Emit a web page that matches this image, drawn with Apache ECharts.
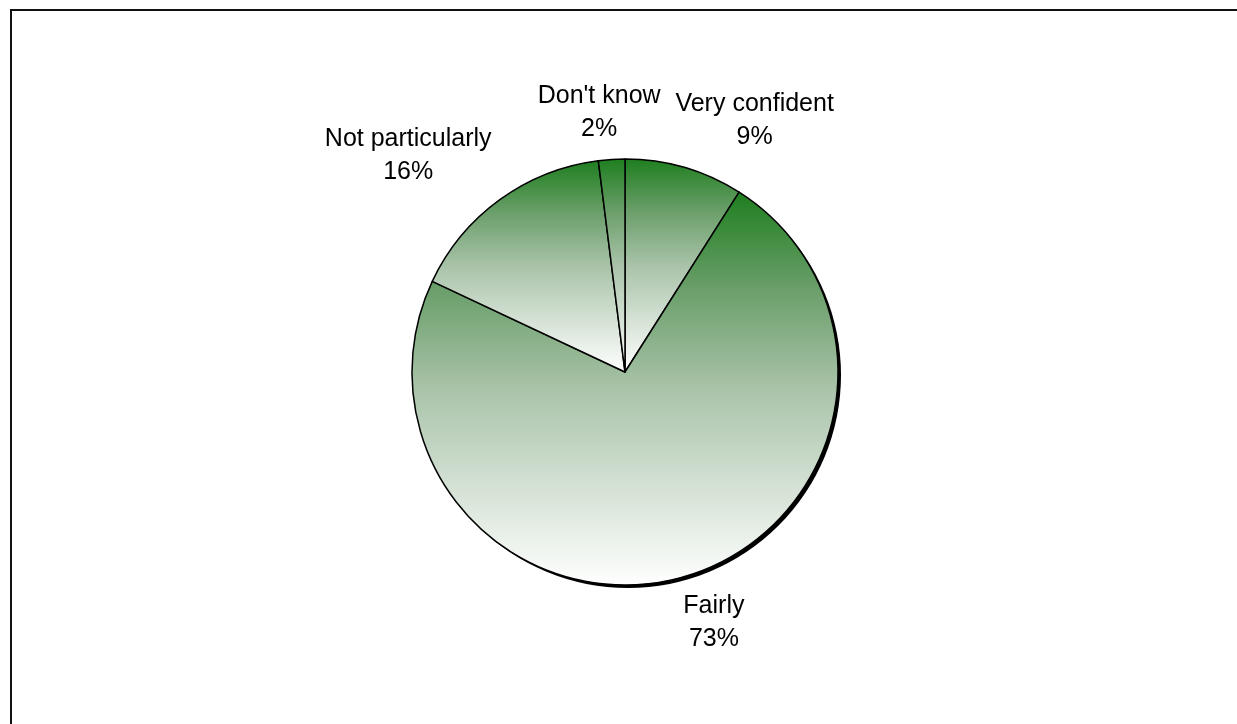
<!DOCTYPE html>
<html>
<head>
<meta charset="utf-8">
<script src="https://cdn.jsdelivr.net/npm/echarts@6/dist/echarts.min.js"></script>
<style>
  html, body { margin: 0; padding: 0; background: #fff; }
  #main { position: absolute; left: 0; top: 0; width: 1237px; height: 724px; }
  #frame { position: absolute; left: 10px; top: 9px; width: 1300px; height: 800px;
           border-left: 2px solid #111; border-top: 2px solid #111; pointer-events: none; }
</style>
</head>
<body>
<div id="main"></div>
<div id="frame"></div>
<script>
  // answers, clockwise from 12 o'clock
  const categories = ['Very confident', 'Fairly', 'Not particularly', "Don't know"]
  const shares = [9, 73, 16, 2]

  const pieCenter = [625, 372]
  const labelGap = 14

  const sliceFill = new echarts.graphic.LinearGradient(0, 0, 0, 1, [
    { offset: 0, color: '#1e7e1e' },
    { offset: 0.25, color: '#6b9f6b' },
    { offset: 0.5, color: '#a9c3a9' },
    { offset: 1, color: '#ffffff' }
  ])

  const clamp01 = v => Math.max(0, Math.min(1, v))

  // excel-like "outside end": box pushed out along the slice's middle direction
  let placeLabel = (params) => {
    const pts = params.labelLinePoints
    const r = params.labelRect
    if (!pts) return {}
    // first guide point sits on the rim at the slice's middle angle
    const dx = pts[0][0] - pieCenter[0]
    const dy = pts[0][1] - pieCenter[1]
    const len = Math.sqrt(dx * dx + dy * dy) || 1
    const s = dx / len
    const c = -dy / len
    const ax = pts[0][0] + s * labelGap
    const ay = pts[0][1] - c * labelGap
    const fx = clamp01(0.5 - 1.5 * s)
    const fy = clamp01(0.5 + 1.5 * c)
    const left = ax - fx * r.width
    const top = ay - fy * r.height
    return {
      x: left + r.width / 2,
      y: top + r.height / 2,
      align: 'center',
      verticalAlign: 'middle'
    }
  }

  let chart = echarts.init(document.getElementById('main'))

  const option = {
    animation: false,
    series: [
      {
        // drop shadow under the pie
        type: 'pie',
        silent: true,
        center: [pieCenter[0] + 3, pieCenter[1] + 3],
        radius: 213,
        label: { show: false },
        labelLine: { show: false },
        itemStyle: { color: '#000' },
        data: [{ value: 1, name: '' }],
        z: 1
      },
      {
        type: 'pie',
        center: pieCenter,
        radius: 213,
        startAngle: 90,
        clockwise: true,
        z: 2,
        itemStyle: {
          color: sliceFill,
          borderColor: '#000',
          borderWidth: 1.5
        },
        label: {
          show: true,
          position: 'outside',
          formatter: p => p.name + '\n' + p.value + '%',
          fontFamily: 'Liberation Sans, Arial, sans-serif',
          fontSize: 25,
          lineHeight: 33,
          color: '#000',
          align: 'center'
        },
        labelLine: { show: true, length: 14, length2: 0, lineStyle: { opacity: 0 } },
        labelLayout: placeLabel,
        data: categories.map((c, i) => ({ name: c, value: shares[i] }))
      }
    ]
  }

  chart.setOption(option)
  window.onresize = () => {
    chart.resize()
  }
</script>
</body>
</html>
